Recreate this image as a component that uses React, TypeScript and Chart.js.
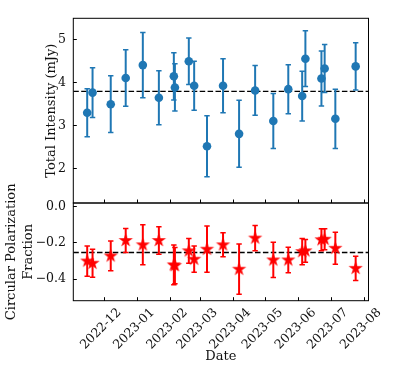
import React, { useEffect, useRef } from 'react';
import { Chart, registerables } from 'chart.js';

Chart.register(...registerables);

// ---- data ----
const DATES = [
  '2022-11-15', '2022-11-20', '2022-12-07', '2022-12-21', '2023-01-06', '2023-01-21',
  '2023-02-04', '2023-02-05', '2023-02-18', '2023-02-23', '2023-03-07', '2023-03-22',
  '2023-04-06', '2023-04-21', '2023-05-08', '2023-05-22', '2023-06-04', '2023-06-07',
  '2023-06-22', '2023-06-25', '2023-07-05', '2023-07-24',
];
const INTENSITY = [
  3.30, 3.77, 3.50, 4.11, 4.41, 3.65, 4.15, 3.89, 4.50, 3.93, 2.52, 3.93,
  2.81, 3.82, 3.11, 3.85, 3.69, 4.56, 4.10, 4.33, 3.16, 4.38,
];
const INTENSITY_ERR = [
  0.56, 0.58, 0.66, 0.66, 0.76, 0.63, 0.55, 0.55, 0.54, 0.57, 0.71, 0.63,
  0.78, 0.58, 0.64, 0.57, 0.58, 0.65, 0.64, 0.56, 0.69, 0.55,
];
const CP = [
  -0.300, -0.312, -0.272, -0.187, -0.211, -0.187, -0.321, -0.325, -0.244, -0.290, -0.235, -0.211,
  -0.345, -0.174, -0.294, -0.294, -0.248, -0.244, -0.183, -0.180, -0.230, -0.340,
];
const CP_ERR = [
  0.083, 0.077, 0.082, 0.066, 0.110, 0.076, 0.109, 0.100, 0.068, 0.072, 0.127, 0.066,
  0.138, 0.070, 0.097, 0.070, 0.072, 0.063, 0.060, 0.058, 0.088, 0.067,
];
const MEAN_INTENSITY = 3.80;
const MEAN_CP = -0.253;

const MONTH_TICKS = ['2022-12', '2023-01', '2023-02', '2023-03', '2023-04', '2023-05', '2023-06', '2023-07', '2023-08'];
const INTENSITY_TICKS = [2, 3, 4, 5];
const CP_TICKS = [-0.4, -0.2, 0.0];
const X_RANGE = ['2022-11-02', '2023-08-05'];
const INTENSITY_RANGE = [1.2, 5.5];
const CP_RANGE = [-0.518, 0.019];

const X_TITLE = 'Date';
const TOP_TITLE = 'Total Intensity (mJy)';
const BOTTOM_TITLE = ['Circular Polarization', 'Fraction'];

// ---- helpers ----
const toMs = (s: string) => {
  const [y, m, d] = s.split('-').map(Number);
  return Date.UTC(y, m - 1, d || 1);
};
const XS = DATES.map(toMs);
const MONTH_MS = MONTH_TICKS.map(toMs);
const XMIN = toMs(X_RANGE[0]);
const XMAX = toMs(X_RANGE[1]);

const BLUE = '#1f77b4';
const RED = '#ff0000';
const FONT = "'DejaVu Serif', serif";
const TEXT = '#111';

function errorSegments(xs: number[], ys: number[], es: number[]) {
  const out: any[] = [];
  xs.forEach((x, i) => {
    out.push({ x, y: ys[i] - es[i] }, { x, y: ys[i] + es[i] }, { x, y: null });
  });
  return out;
}
function errorCaps(xs: number[], ys: number[], es: number[]) {
  const out: any[] = [];
  xs.forEach((x, i) => {
    out.push({ x, y: ys[i] - es[i] }, { x, y: ys[i] + es[i] });
  });
  return out;
}

function makeStar(color: string, R: number) {
  const size = Math.ceil(2 * R + 2);
  const c = document.createElement('canvas');
  c.width = size;
  c.height = size;
  const g = c.getContext('2d')!;
  const cx = size / 2;
  const cy = size / 2;
  const r = R * 0.381966;
  g.beginPath();
  for (let k = 0; k < 10; k++) {
    const rad = k % 2 === 0 ? R : r;
    const a = -Math.PI / 2 + (k * Math.PI) / 5;
    const px = cx + rad * Math.cos(a);
    const py = cy + rad * Math.sin(a);
    if (k === 0) g.moveTo(px, py);
    else g.lineTo(px, py);
  }
  g.closePath();
  g.fillStyle = color;
  g.fill();
  return c;
}

const framePlugin = {
  id: 'frame',
  afterDatasetsDraw(chart: any) {
    const { ctx, chartArea: a } = chart;
    ctx.save();
    ctx.strokeStyle = '#000';
    ctx.lineWidth = 1;
    ctx.strokeRect(a.left, a.top, a.right - a.left, a.bottom - a.top);
    ctx.restore();
  },
};

const W = 394;
const H = 373;
const AXIS_W = 73.3;
const RIGHT_PAD = 25.5;
const PANEL_SPLIT = 203;
const X_AXIS_H = 72.3;

function tickGrid() {
  return {
    display: true,
    drawOnChartArea: false,
    drawTicks: true,
    tickLength: -3.5,
    color: '#000',
    lineWidth: 1,
  };
}

export default function App() {
  const topRef = useRef<HTMLCanvasElement>(null);
  const botRef = useRef<HTMLCanvasElement>(null);

  useEffect(() => {
    const star = makeStar(RED, 7.5);

    const topChart = new Chart(topRef.current!, {
      type: 'line',
      data: {
        datasets: [
          {
            type: 'scatter',
            data: XS.map((x, i) => ({ x, y: INTENSITY[i] })),
            pointStyle: 'circle',
            pointRadius: 4.3,
            pointBackgroundColor: BLUE,
            pointBorderWidth: 0,
            showLine: false,
          } as any,
          {
            type: 'scatter',
            data: errorCaps(XS, INTENSITY, INTENSITY_ERR),
            pointStyle: 'line',
            pointRadius: 2.7,
            pointBorderColor: BLUE,
            pointBorderWidth: 1.5,
            showLine: false,
          },
          {
            type: 'line',
            data: errorSegments(XS, INTENSITY, INTENSITY_ERR),
            borderColor: BLUE,
            borderWidth: 2,
            pointRadius: 0,
            spanGaps: false,
          },
          {
            type: 'line',
            data: [{ x: XMIN, y: MEAN_INTENSITY }, { x: XMAX, y: MEAN_INTENSITY }],
            borderColor: '#000',
            borderWidth: 1.3,
            borderDash: [5.5, 2.4],
            pointRadius: 0,
          },
        ],
      },
      options: {
        responsive: false,
        animation: false,
        events: [],
        layout: { padding: { left: 0, right: RIGHT_PAD, top: 7, bottom: H - PANEL_SPLIT } },
        plugins: { legend: { display: false }, tooltip: { enabled: false } },
        scales: {
          x: {
            type: 'linear',
            position: 'bottom',
            min: XMIN,
            max: XMAX,
            afterBuildTicks: (s: any) => { s.ticks = MONTH_MS.map((v) => ({ value: v })); },
            afterFit: (s: any) => { s.height = 0; },
            ticks: { display: false },
            grid: tickGrid(),
            border: { display: false },
          },
          y: {
            type: 'linear',
            min: INTENSITY_RANGE[0],
            max: INTENSITY_RANGE[1],
            afterBuildTicks: (s: any) => { s.ticks = INTENSITY_TICKS.map((v) => ({ value: v })); },
            afterFit: (s: any) => { s.width = AXIS_W; },
            ticks: {
              color: TEXT,
              padding: 10.8,
              font: { family: FONT, size: 12.5 },
              callback: (v: any) => String(v),
            },
            grid: tickGrid(),
            border: { display: false },
            title: {
              display: true,
              text: TOP_TITLE,
              color: TEXT,
              font: { family: FONT, size: 13, lineHeight: 1.33 },
              padding: { top: 43, bottom: 0 },
            },
          },
        },
      } as any,
      plugins: [framePlugin],
    });

    const botChart = new Chart(botRef.current!, {
      type: 'line',
      data: {
        datasets: [
          {
            type: 'scatter',
            data: XS.map((x, i) => ({ x, y: CP[i] })),
            pointStyle: star,
            pointRadius: 7,
            showLine: false,
          } as any,
          {
            type: 'scatter',
            data: errorCaps(XS, CP, CP_ERR),
            pointStyle: 'line',
            pointRadius: 2.7,
            pointBorderColor: RED,
            pointBorderWidth: 1.5,
            showLine: false,
          },
          {
            type: 'line',
            data: errorSegments(XS, CP, CP_ERR),
            borderColor: RED,
            borderWidth: 2,
            pointRadius: 0,
            spanGaps: false,
          },
          {
            type: 'line',
            data: [{ x: XMIN, y: MEAN_CP }, { x: XMAX, y: MEAN_CP }],
            borderColor: '#000',
            borderWidth: 1.3,
            borderDash: [5.5, 2.4],
            pointRadius: 0,
          },
        ],
      },
      options: {
        responsive: false,
        animation: false,
        events: [],
        layout: { padding: { left: 0, right: RIGHT_PAD, top: PANEL_SPLIT, bottom: 0 } },
        plugins: { legend: { display: false }, tooltip: { enabled: false } },
        scales: {
          x: {
            type: 'linear',
            position: 'bottom',
            min: XMIN,
            max: XMAX,
            afterBuildTicks: (s: any) => { s.ticks = MONTH_MS.map((v) => ({ value: v })); },
            afterFit: (s: any) => { s.height = X_AXIS_H; },
            ticks: {
              autoSkip: false,
              minRotation: 45,
              maxRotation: 45,
              labelOffset: 15,
              padding: 8,
              color: TEXT,
              font: { family: FONT, size: 12.5 },
              callback: (v: any) => {
                const i = MONTH_MS.indexOf(Number(v));
                return i >= 0 ? MONTH_TICKS[i] : '';
              },
            },
            grid: tickGrid(),
            border: { display: false },
            title: {
              display: true,
              text: X_TITLE,
              color: TEXT,
              font: { family: FONT, size: 13, lineHeight: 1.2 },
              padding: { top: 0, bottom: 8.5 },
            },
          },
          y: {
            type: 'linear',
            min: CP_RANGE[0],
            max: CP_RANGE[1],
            afterBuildTicks: (s: any) => { s.ticks = CP_TICKS.map((v) => ({ value: v })); },
            afterFit: (s: any) => { s.width = AXIS_W; },
            ticks: {
              color: TEXT,
              padding: 10.8,
              font: { family: FONT, size: 12.5 },
              callback: (v: any) => {
                const n = Number(v);
                return (n < -1e-9 ? '\u2212' : '') + Math.abs(n).toFixed(1);
              },
            },
            grid: tickGrid(),
            border: { display: false },
            title: {
              display: true,
              text: BOTTOM_TITLE,
              color: TEXT,
              font: { family: FONT, size: 13, lineHeight: 1.33 },
              padding: { top: 3, bottom: 0 },
            },
          },
        },
      } as any,
      plugins: [framePlugin],
    });

    return () => {
      topChart.destroy();
      botChart.destroy();
    };
  }, []);

  const canvasStyle: React.CSSProperties = { position: 'absolute', left: 0, top: 0, width: W, height: H };
  return (
    <div style={{ position: 'absolute', left: 0, top: 0, width: W, height: H, background: '#fff' }}>
      <canvas ref={topRef} width={W} height={H} style={canvasStyle} />
      <canvas ref={botRef} width={W} height={H} style={canvasStyle} />
    </div>
  );
}
